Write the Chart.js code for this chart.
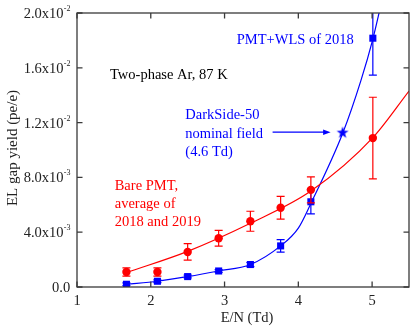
<!DOCTYPE html>
<html><head><meta charset="utf-8">
<script src="https://cdn.jsdelivr.net/npm/chart.js@4/dist/chart.umd.min.js"></script>
<style>html,body{margin:0;padding:0;background:#fff}canvas{display:block}</style>
</head><body>
<canvas id="c" width="411" height="330"></canvas>
<script>
// ---- data ----
const fieldTd   = [1.67, 2.09, 2.50, 2.92, 3.35, 3.76, 4.17, 5.01];
const bareY     = [1.10e-3, 1.10e-3, 2.56e-3, 3.56e-3, 4.80e-3, 5.78e-3, 7.09e-3, 10.87e-3];
const bareErr   = [0.30e-3, 0.30e-3, 0.60e-3, 0.58e-3, 0.73e-3, 0.83e-3, 0.95e-3, 2.98e-3];
const wlsY      = [0.20e-3, 0.42e-3, 0.76e-3, 1.17e-3, 1.64e-3, 3.00e-3, 6.22e-3, 18.16e-3];
const wlsErr    = [0.10e-3, 0.10e-3, 0.10e-3, 0.10e-3, 0.15e-3, 0.46e-3, 0.88e-3, 2.70e-3];
const bareFitX  = [1.67, 2.50, 3.35, 4.17, 5.01, 5.50];
const bareFitY  = [1.05e-3, 2.60e-3, 4.65e-3, 7.00e-3, 10.90e-3, 14.30e-3];
const wlsFitX   = [1.67, 2.09, 2.50, 2.92, 3.35, 3.76, 4.00, 4.17, 4.60, 4.85, 5.01, 5.12];
const wlsFitY   = [0.20e-3, 0.42e-3, 0.76e-3, 1.17e-3, 1.64e-3, 3.00e-3, 4.30e-3, 6.10e-3, 11.20e-3, 15.10e-3, 18.10e-3, 20.60e-3];
const starX     = [4.6];
const starY     = [11.30e-3];
const xTicks    = [1, 2, 3, 4, 5];
const xTickLabels = ['1', '2', '3', '4', '5'];
const yTicks    = [0, 4e-3, 8e-3, 12e-3, 16e-3, 20e-3];
const yTickMant = ['0.0', '4.0x10', '8.0x10', '1.2x10', '1.6x10', '2.0x10'];
const yTickExp  = ['', '-3', '-3', '-2', '-2', '-2'];

const RED = '#ff0000', BLUE = '#0000ff', FRAME = '#3a3a3a';
const SERIF = '"Liberation Serif", "DejaVu Serif", serif';
const FS = 14.5;

const pts = (xs, ys) => xs.map((x, i) => ({x: x, y: ys[i]}));

function makeStar() {
  const c = document.createElement('canvas');
  c.width = 14; c.height = 14;
  const g = c.getContext('2d');
  g.fillStyle = BLUE;
  g.beginPath();
  for (let i = 0; i < 10; i++) {
    const r = i % 2 ? 2.5 : 6.3;
    const a = -Math.PI / 2 + i * Math.PI / 5;
    g.lineTo(7 + r * Math.cos(a), 7.6 + r * Math.sin(a));
  }
  g.closePath();
  g.fill();
  return c;
}

const errPlugin = {
  id: 'errbars',
  afterDatasetDraw(chart, args) {
    const ds = chart.data.datasets[args.index];
    if (!ds.errors) return;
    const ctx = chart.ctx, xs = chart.scales.x, ys = chart.scales.y, a = chart.chartArea;
    ctx.save();
    ctx.beginPath();
    ctx.rect(a.left, a.top, a.right - a.left, a.bottom - a.top);
    ctx.clip();
    ctx.strokeStyle = ds.borderColor;
    ctx.lineWidth = 1.2;
    ds.data.forEach((p, i) => {
      const e = ds.errors[i];
      const x = xs.getPixelForValue(p.x);
      const y1 = ys.getPixelForValue(p.y + e), y2 = ys.getPixelForValue(p.y - e);
      ctx.beginPath();
      ctx.moveTo(x, y1); ctx.lineTo(x, y2);
      ctx.moveTo(x - 4, y1); ctx.lineTo(x + 4, y1);
      ctx.moveTo(x - 4, y2); ctx.lineTo(x + 4, y2);
      ctx.stroke();
    });
    ctx.restore();
  }
};

const decoPlugin = {
  id: 'deco',
  afterDraw(chart) {
    const ctx = chart.ctx, xs = chart.scales.x, ys = chart.scales.y, a = chart.chartArea;
    ctx.save();
    // frame
    ctx.strokeStyle = FRAME;
    ctx.lineWidth = 1.3;
    ctx.strokeRect(a.left, a.top, a.right - a.left, a.bottom - a.top);
    // ticks (inward on all four sides)
    const TL = 5.5;
    ctx.beginPath();
    xTicks.forEach(v => {
      const x = xs.getPixelForValue(v);
      ctx.moveTo(x, a.bottom); ctx.lineTo(x, a.bottom - TL);
      ctx.moveTo(x, a.top); ctx.lineTo(x, a.top + TL);
    });
    yTicks.forEach(v => {
      const y = ys.getPixelForValue(v);
      ctx.moveTo(a.left, y); ctx.lineTo(a.left + TL, y);
      ctx.moveTo(a.right, y); ctx.lineTo(a.right - TL, y);
    });
    ctx.stroke();

    // x tick labels
    ctx.fillStyle = '#222';
    ctx.font = FS + 'px ' + SERIF;
    ctx.textAlign = 'center';
    ctx.textBaseline = 'alphabetic';
    xTicks.forEach((v, i) => ctx.fillText(xTickLabels[i], xs.getPixelForValue(v), 304.5));

    // y tick labels with superscript exponents
    const rightEdge = 70.5;
    yTicks.forEach((v, i) => {
      const y = ys.getPixelForValue(v);
      let expW = 0;
      if (yTickExp[i]) {
        ctx.font = '8px ' + SERIF;
        expW = ctx.measureText(yTickExp[i]).width;
        ctx.textAlign = 'left';
        ctx.fillText(yTickExp[i], rightEdge - expW, y - 2);
      }
      ctx.font = FS + 'px ' + SERIF;
      ctx.textAlign = 'right';
      ctx.fillText(yTickMant[i], rightEdge - expW - 0.3, y + 5);
    });

    // axis titles
    ctx.font = FS + 'px ' + SERIF;
    ctx.textAlign = 'center';
    ctx.fillText('E/N (Td)', 247, 322);
    ctx.save();
    ctx.translate(16.7, 148);
    ctx.rotate(-Math.PI / 2);
    ctx.font = '15px ' + SERIF;
    ctx.fillText('EL gap yield (pe/e)', 0, 0);
    ctx.restore();

    // annotations
    ctx.font = FS + 'px ' + SERIF;
    ctx.textAlign = 'left';
    ctx.fillStyle = '#000';
    ctx.fillText('Two-phase Ar, 87 K', 110, 78.5);
    ctx.fillStyle = BLUE;
    ctx.fillText('PMT+WLS of 2018', 236.7, 44);
    ctx.fillText('DarkSide-50', 185.3, 119);
    ctx.fillText('nominal field', 185.3, 137.5);
    ctx.fillText('(4.6 Td)', 185.3, 156);
    ctx.fillStyle = RED;
    ctx.fillText('Bare PMT,', 114.7, 189.5);
    ctx.fillText('average of', 114.7, 207.5);
    ctx.fillText('2018 and 2019', 114.7, 225.7);

    // arrow to the star
    const sx = xs.getPixelForValue(starX[0]), sy = ys.getPixelForValue(starY[0]);
    const tip = sx - 12, start = sx - 70;
    ctx.strokeStyle = BLUE;
    ctx.fillStyle = BLUE;
    ctx.lineWidth = 1.3;
    ctx.beginPath();
    ctx.moveTo(start, sy); ctx.lineTo(tip - 5, sy);
    ctx.stroke();
    ctx.beginPath();
    ctx.moveTo(tip, sy); ctx.lineTo(tip - 7.5, sy - 2.8); ctx.lineTo(tip - 7.5, sy + 2.8);
    ctx.closePath();
    ctx.fill();
    ctx.restore();
  }
};

new Chart(document.getElementById('c'), {
  type: 'line',
  data: {
    datasets: [
      { label: 'DarkSide-50 nominal field', data: pts(starX, starY), showLine: false,
        pointStyle: makeStar(), pointRadius: 7, borderColor: BLUE, backgroundColor: BLUE },
      { label: 'Bare PMT', data: pts(fieldTd, bareY), errors: bareErr, showLine: false,
        pointStyle: 'circle', pointRadius: 4.2, borderWidth: 0, pointBorderWidth: 0,
        borderColor: RED, backgroundColor: RED, pointBackgroundColor: RED },
      { label: 'Bare PMT fit', data: pts(bareFitX, bareFitY), pointRadius: 0,
        borderColor: RED, borderWidth: 1.2, cubicInterpolationMode: 'monotone', fill: false },
      { label: 'PMT+WLS', data: pts(fieldTd, wlsY), errors: wlsErr, showLine: false,
        pointStyle: 'rect', pointRadius: 5, borderWidth: 0, pointBorderWidth: 0,
        borderColor: BLUE, backgroundColor: BLUE, pointBackgroundColor: BLUE },
      { label: 'PMT+WLS fit', data: pts(wlsFitX, wlsFitY), pointRadius: 0,
        borderColor: BLUE, borderWidth: 1.2, cubicInterpolationMode: 'monotone', fill: false }
    ]
  },
  options: {
    responsive: false,
    devicePixelRatio: 1,
    animation: false,
    layout: { autoPadding: false, padding: { left: 77, top: 13, right: 2, bottom: 43 } },
    plugins: { legend: { display: false }, tooltip: { enabled: false } },
    scales: {
      x: { type: 'linear', min: 1, max: 5.5, display: false },
      y: { type: 'linear', min: 0, max: 0.02, display: false }
    }
  },
  plugins: [errPlugin, decoPlugin]
});
</script>
</body></html>
